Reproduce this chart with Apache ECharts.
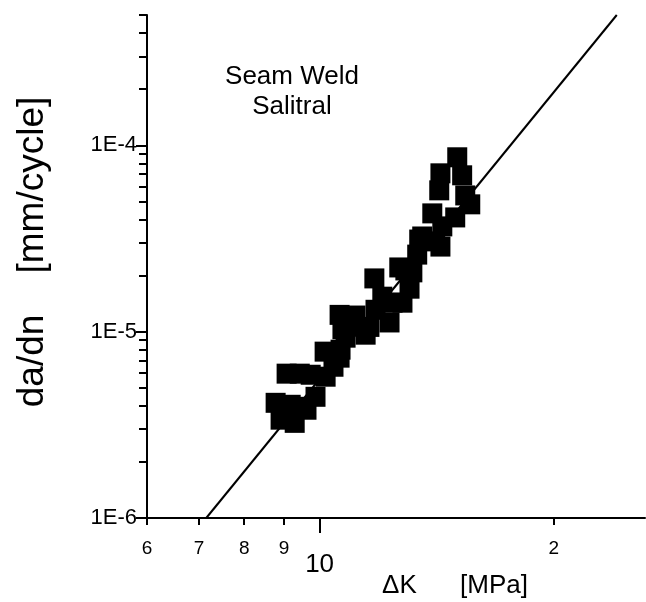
<!DOCTYPE html>
<html>
<head>
<meta charset="utf-8">
<script src="https://cdn.jsdelivr.net/npm/echarts@6/dist/echarts.min.js"></script>
<style>html,body{margin:0;padding:0;background:#fff}#c{width:646px;height:602px}</style>
</head>
<body>
<div id="c"></div>
<script>
// Data: stress intensity range dK [MPa] and crack growth rate da/dn [mm/cycle]
const deltaK = [8.78, 8.91, 9.29, 9.51, 9.07, 9.43, 9.74, 9.88, 9.62, 10.18,
  10.15, 10.61, 10.64, 10.42, 10.61, 11.12, 10.80, 11.46, 11.59, 10.70,
  11.80, 12.30, 12.04, 11.76, 12.41, 12.78, 13.05, 12.89, 13.16, 12.66,
  13.35, 13.55, 14.30, 13.43, 14.08, 13.96, 14.38, 14.94, 14.25, 15.39,
  15.62, 14.30, 15.25, 15.03, 11.02, 9.18];
const dadn = [4.15e-6, 3.37e-6, 3.24e-6, 3.95e-6, 5.95e-6, 5.95e-6, 5.87e-6, 4.47e-6, 3.81e-6, 5.73e-6,
  7.81e-6, 7.25e-6, 8.0e-6, 6.48e-6, 1.23e-5, 1.22e-5, 9.28e-6, 9.63e-6, 1.06e-5, 1.03e-5,
  1.31e-5, 1.12e-5, 1.54e-5, 1.93e-5, 1.43e-5, 1.43e-5, 1.70e-5, 2.13e-5, 2.08e-5, 2.21e-5,
  2.59e-5, 3.24e-5, 2.86e-5, 3.12e-5, 3.05e-5, 4.31e-5, 3.67e-5, 4.10e-5, 5.73e-5, 5.38e-5,
  4.82e-5, 7.07e-5, 6.90e-5, 8.62e-5, 1.09e-5, 4.05e-6];
// Fitted line end points
const fitK = [7.15, 24.1];
const fitRate = [1.0e-6, 5.0e-4];

// Axis ticks and labels
const xMinorTicks = [6, 7, 8, 9, 20];
const xMinorLabels = ['6', '7', '8', '9', '2'];
const xMajorTicks = [10];
const xMajorLabels = ['10'];
const yMinorTicks = [2e-6, 3e-6, 4e-6, 5e-6, 6e-6, 7e-6, 8e-6, 9e-6,
  2e-5, 3e-5, 4e-5, 5e-5, 6e-5, 7e-5, 8e-5, 9e-5,
  2e-4, 3e-4, 4e-4, 5e-4];
const yMajorTicks = [1e-6, 1e-5, 1e-4];
const yMajorLabels = ['1E-6', '1E-5', '1E-4'];
const annotation = ['Seam Weld', 'Salitral'];
const xTitle = '\u0394K      [MPa]';
const yTitle = 'da/dn    [mm/cycle]';

const FONT = 'Liberation Sans, Arial, sans-serif';
const X_MIN = 6, X_MAX = 26.2, Y_MIN = 1e-6, Y_MAX = 5e-4;

function lookup(values, labels) {
  return v => {
    for (let i = 0; i < values.length; i++) {
      if (Math.abs(values[i] - v) / values[i] < 1e-6) return labels[i];
    }
    return '';
  };
}

const lineStyleAxis = { color: '#000', width: 2 };
const chart = echarts.init(document.getElementById('c'), null, { renderer: 'canvas' });
chart.setOption({
  animation: false,
  backgroundColor: '#fff',
  grid: { left: 147, right: 1, top: 15, bottom: 84 },
  xAxis: [{
    type: 'log', logBase: 10, min: X_MIN, max: X_MAX, position: 'bottom', offset: 0,
    axisLine: { show: true, lineStyle: lineStyleAxis, onZero: false },
    axisTick: { show: true, length: 7, inside: false, customValues: xMinorTicks, lineStyle: { color: '#000', width: 2 } },
    axisLabel: { show: true, customValues: xMinorTicks, formatter: lookup(xMinorTicks, xMinorLabels), margin: 21, fontSize: 19, color: '#000', fontFamily: FONT },
    splitLine: { show: false }, minorTick: { show: false }
  }, {
    type: 'log', logBase: 10, min: X_MIN, max: X_MAX, position: 'bottom', offset: 0,
    axisLine: { show: false, onZero: false },
    axisTick: { show: true, length: 15, inside: false, customValues: xMajorTicks, lineStyle: { color: '#000', width: 2 } },
    axisLabel: { show: true, customValues: xMajorTicks, formatter: lookup(xMajorTicks, xMajorLabels), margin: 34, fontSize: 26, color: '#000', fontFamily: FONT },
    splitLine: { show: false }
  }],
  yAxis: [{
    type: 'log', logBase: 10, min: Y_MIN, max: Y_MAX, position: 'left', offset: 0,
    axisLine: { show: true, lineStyle: lineStyleAxis, onZero: false },
    axisTick: { show: true, length: 8, inside: false, customValues: yMinorTicks, lineStyle: { color: '#000', width: 2 } },
    axisLabel: { show: false },
    splitLine: { show: false }
  }, {
    type: 'log', logBase: 10, min: Y_MIN, max: Y_MAX, position: 'left', offset: 0,
    axisLine: { show: false, onZero: false },
    axisTick: { show: true, length: 11, inside: false, customValues: yMajorTicks, lineStyle: { color: '#000', width: 2 } },
    axisLabel: { show: true, customValues: yMajorTicks, formatter: lookup(yMajorTicks, yMajorLabels), margin: 10, fontSize: 22, color: '#000', fontFamily: FONT },
    splitLine: { show: false }
  }],
  series: [{
    type: 'line', xAxisIndex: 0, yAxisIndex: 0,
    data: fitK.map((k, i) => [k, fitRate[i]]),
    symbol: 'none', lineStyle: { color: '#000', width: 2 }, z: 3
  }, {
    type: 'scatter', xAxisIndex: 0, yAxisIndex: 0,
    data: deltaK.map((k, i) => [k, dadn[i]]),
    symbol: 'rect', symbolSize: 20, itemStyle: { color: '#000', opacity: 1 }, z: 2
  }],
  graphic: [
    { type: 'text', x: 292, y: 77, style: { text: annotation[0], font: '26px ' + FONT, fill: '#000', textAlign: 'center', textVerticalAlign: 'middle' } },
    { type: 'text', x: 292, y: 107, style: { text: annotation[1], font: '26px ' + FONT, fill: '#000', textAlign: 'center', textVerticalAlign: 'middle' } },
    { type: 'text', x: 455, y: 586, style: { text: xTitle, font: '26px ' + FONT, fill: '#000', textAlign: 'center', textVerticalAlign: 'middle' } },
    { type: 'text', x: 33, y: 252, rotation: Math.PI / 2, style: { text: yTitle, font: '37px ' + FONT, fill: '#000', textAlign: 'center', textVerticalAlign: 'middle' } }
  ]
});
</script>
</body>
</html>
